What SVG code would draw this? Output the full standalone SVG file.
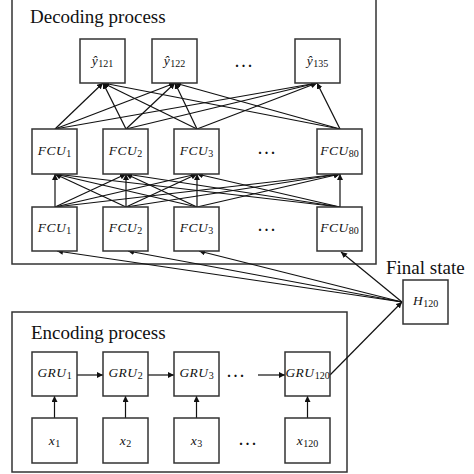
<svg xmlns="http://www.w3.org/2000/svg" width="474" height="474" viewBox="0 0 474 474">
<defs>
<marker id="ah" viewBox="0 0 10 10" refX="10" refY="5" markerWidth="6" markerHeight="6" markerUnits="userSpaceOnUse" orient="auto">
<path d="M0,0 L10,5 L0,10 z" fill="#111"/>
</marker>
<style>
.frame{fill:none;stroke:#333;stroke-width:1.5}
.box{fill:#fff;stroke:#333;stroke-width:1.5}
.title{font-family:"Liberation Serif",serif;font-size:19px;fill:#111}
.lab{font-family:"Liberation Serif",serif;font-style:italic;font-size:13.5px;fill:#111;text-anchor:middle;letter-spacing:0.5px}
.sub{font-style:normal;font-size:10px;letter-spacing:0}
.dots{font-family:"Liberation Serif",serif;font-weight:bold;font-size:14px;letter-spacing:3px;fill:#111;text-anchor:middle}
.c line{stroke:#111;stroke-width:1.2;marker-end:url(#ah)}
</style>
</defs>
<rect width="474" height="474" fill="#fff"/>
<rect class="frame" x="12" y="-2" width="364" height="266"/>
<rect class="frame" x="12" y="312" width="335" height="160"/>
<text class="title" x="30" y="23">Decoding process</text>
<text class="title" x="31" y="339">Encoding process</text>
<text class="title" x="386" y="274">Final state</text>

<g class="c" id="connectors">
<line x1="55" y1="207" x2="55" y2="174"/>
<line x1="55" y1="207" x2="126" y2="174"/>
<line x1="55" y1="207" x2="197" y2="174"/>
<line x1="55" y1="207" x2="340" y2="174"/>
<line x1="126" y1="207" x2="55" y2="174"/>
<line x1="126" y1="207" x2="126" y2="174"/>
<line x1="126" y1="207" x2="197" y2="174"/>
<line x1="126" y1="207" x2="340" y2="174"/>
<line x1="197" y1="207" x2="55" y2="174"/>
<line x1="197" y1="207" x2="126" y2="174"/>
<line x1="197" y1="207" x2="197" y2="174"/>
<line x1="197" y1="207" x2="340" y2="174"/>
<line x1="340" y1="207" x2="55" y2="174"/>
<line x1="340" y1="207" x2="126" y2="174"/>
<line x1="340" y1="207" x2="197" y2="174"/>
<line x1="340" y1="207" x2="340" y2="174"/>
<line x1="55" y1="129" x2="103" y2="83"/>
<line x1="55" y1="129" x2="175" y2="83"/>
<line x1="55" y1="129" x2="317" y2="83"/>
<line x1="126" y1="129" x2="103" y2="83"/>
<line x1="126" y1="129" x2="175" y2="83"/>
<line x1="126" y1="129" x2="317" y2="83"/>
<line x1="197" y1="129" x2="103" y2="83"/>
<line x1="197" y1="129" x2="175" y2="83"/>
<line x1="197" y1="129" x2="317" y2="83"/>
<line x1="340" y1="129" x2="103" y2="83"/>
<line x1="340" y1="129" x2="175" y2="83"/>
<line x1="340" y1="129" x2="317" y2="83"/>
<line x1="402" y1="302" x2="57" y2="251"/>
<line x1="402" y1="302" x2="128" y2="251"/>
<line x1="402" y1="302" x2="199" y2="251"/>
<line x1="402" y1="302" x2="341" y2="252"/>
<line x1="77" y1="375" x2="103" y2="375"/>
<line x1="147" y1="375" x2="174" y2="375"/>
<line x1="258" y1="375" x2="285" y2="375"/>
<line x1="54.5" y1="418" x2="54.5" y2="396"/>
<line x1="125.5" y1="418" x2="125.5" y2="396"/>
<line x1="196.5" y1="418" x2="196.5" y2="396"/>
<line x1="307.5" y1="418" x2="307.5" y2="396"/>
<line x1="330" y1="375" x2="402" y2="302"/>
</g>

<g id="y121"><rect class="box" x="80" y="39" width="45" height="44"/><text class="lab" x="102.5" y="65">ŷ<tspan class="sub" dy="2">121</tspan></text></g>
<g id="y122"><rect class="box" x="152" y="39" width="45" height="44"/><text class="lab" x="174.5" y="65">ŷ<tspan class="sub" dy="2">122</tspan></text></g>
<g id="y135"><rect class="box" x="295" y="39" width="45" height="44"/><text class="lab" x="317.5" y="65">ŷ<tspan class="sub" dy="2">135</tspan></text></g>
<text class="dots" x="245" y="67">...</text>

<g id="fcu-top-1"><rect class="box" x="32" y="129" width="45" height="45"/><text class="lab" x="54.5" y="155">FCU<tspan class="sub" dy="2">1</tspan></text></g>
<g id="fcu-top-2"><rect class="box" x="103" y="129" width="45" height="45"/><text class="lab" x="125.5" y="155">FCU<tspan class="sub" dy="2">2</tspan></text></g>
<g id="fcu-top-3"><rect class="box" x="174" y="129" width="45" height="45"/><text class="lab" x="196.5" y="155">FCU<tspan class="sub" dy="2">3</tspan></text></g>
<g id="fcu-top-80"><rect class="box" x="317" y="129" width="45" height="45"/><text class="lab" x="339.5" y="155">FCU<tspan class="sub" dy="2">80</tspan></text></g>
<text class="dots" x="268" y="154">...</text>

<g id="fcu-bot-1"><rect class="box" x="32" y="207" width="45" height="44"/><text class="lab" x="54.5" y="232">FCU<tspan class="sub" dy="2">1</tspan></text></g>
<g id="fcu-bot-2"><rect class="box" x="103" y="207" width="45" height="44"/><text class="lab" x="125.5" y="232">FCU<tspan class="sub" dy="2">2</tspan></text></g>
<g id="fcu-bot-3"><rect class="box" x="174" y="207" width="45" height="44"/><text class="lab" x="196.5" y="232">FCU<tspan class="sub" dy="2">3</tspan></text></g>
<g id="fcu-bot-80"><rect class="box" x="317" y="207" width="45" height="44"/><text class="lab" x="339.5" y="232">FCU<tspan class="sub" dy="2">80</tspan></text></g>
<text class="dots" x="268" y="231">...</text>

<g id="h120"><rect class="box" x="403" y="280" width="45" height="44"/><text class="lab" x="425.5" y="305">H<tspan class="sub" dy="2">120</tspan></text></g>

<g id="gru1"><rect class="box" x="32" y="352" width="45" height="44"/><text class="lab" x="54.5" y="377">GRU<tspan class="sub" dy="2">1</tspan></text></g>
<g id="gru2"><rect class="box" x="103" y="352" width="45" height="44"/><text class="lab" x="125.5" y="377">GRU<tspan class="sub" dy="2">2</tspan></text></g>
<g id="gru3"><rect class="box" x="174" y="352" width="45" height="44"/><text class="lab" x="196.5" y="377">GRU<tspan class="sub" dy="2">3</tspan></text></g>
<g id="gru120"><rect class="box" x="285" y="352" width="45" height="44"/><text class="lab" x="307.5" y="377">GRU<tspan class="sub" dy="2">120</tspan></text></g>
<text class="dots" x="237" y="377">...</text>

<g id="x1"><rect class="box" x="32" y="418" width="45" height="45"/><text class="lab" x="54.5" y="445">x<tspan class="sub" dy="2">1</tspan></text></g>
<g id="x2"><rect class="box" x="103" y="418" width="45" height="45"/><text class="lab" x="125.5" y="445">x<tspan class="sub" dy="2">2</tspan></text></g>
<g id="x3"><rect class="box" x="174" y="418" width="45" height="45"/><text class="lab" x="196.5" y="445">x<tspan class="sub" dy="2">3</tspan></text></g>
<g id="x120"><rect class="box" x="285" y="418" width="45" height="45"/><text class="lab" x="307.5" y="445">x<tspan class="sub" dy="2">120</tspan></text></g>
<text class="dots" x="249" y="445">...</text>
</svg>
